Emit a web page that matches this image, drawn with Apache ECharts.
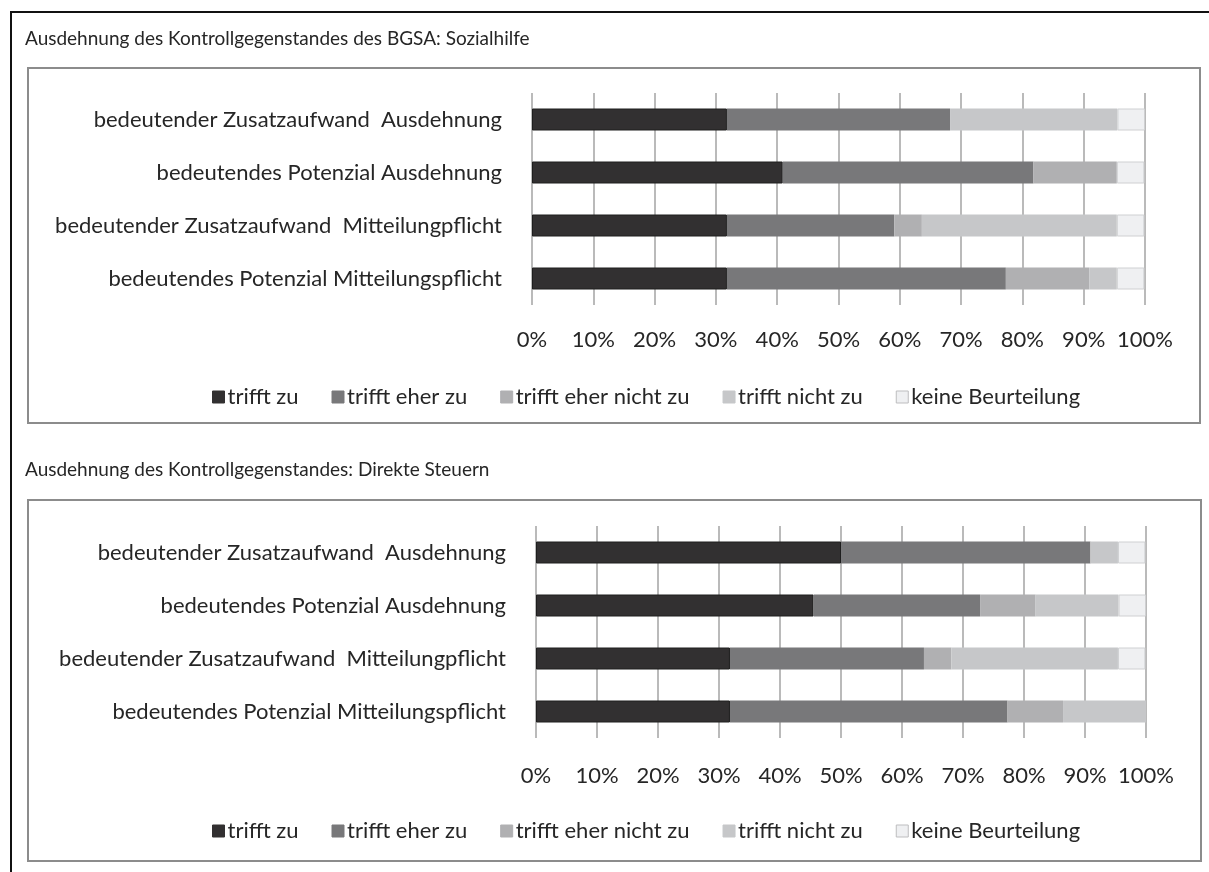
<!DOCTYPE html>
<html>
<head>
<meta charset="utf-8">
<script src="https://cdn.jsdelivr.net/npm/echarts@6/dist/echarts.min.js"></script>
<style>
  html, body { margin: 0; padding: 0; background: #fff; }
  #chart { width: 1209px; height: 872px; }
</style>
</head>
<body>
<div id="chart"></div>
<script>
// Survey answers, share of respondents in percent (rows top to bottom)
const categories = [
  'bedeutender Zusatzaufwand  Ausdehnung',
  'bedeutendes Potenzial Ausdehnung',
  'bedeutender Zusatzaufwand  Mitteilungpflicht',
  'bedeutendes Potenzial Mitteilungspflicht'
];
const answerNames = ['trifft zu', 'trifft eher zu', 'trifft eher nicht zu', 'trifft nicht zu', 'keine Beurteilung'];
const xTicks = ['0%', '10%', '20%', '30%', '40%', '50%', '60%', '70%', '80%', '90%', '100%'];

const titleSozialhilfe = 'Ausdehnung des Kontrollgegenstandes des BGSA: Sozialhilfe';
const titleSteuern = 'Ausdehnung des Kontrollgegenstandes: Direkte Steuern';

// Sozialhilfe
const sozTrifftZu       = [31.8, 40.9, 31.8, 31.8];
const sozEherZu         = [36.4, 40.9, 27.3, 45.5];
const sozEherNichtZu    = [0,    13.6, 4.5,  13.6];
const sozNichtZu        = [27.3, 0,    31.8, 4.5];
const sozKeine          = [4.5,  4.5,  4.5,  4.5];

// Direkte Steuern
const stTrifftZu        = [50.0, 45.5, 31.8, 31.8];
const stEherZu          = [40.9, 27.3, 31.8, 45.5];
const stEherNichtZu     = [0,    9.1,  4.5,  9.1];
const stNichtZu         = [4.5,  13.6, 27.3, 13.6];
const stKeine           = [4.5,  4.5,  4.5,  0];

const FONT = 'Lato';
const TEXT = '#262626';
const fills   = ['#323031', '#78787a', '#b0b0b2', '#c6c7c9', '#eff0f2'];
const borders = ['#1e1e1e', '#78787a', '#b0b0b2', '#c6c7c9', '#cfd0d2'];

function makeSeries(sets, axisIndex) {
  return sets.map((values, i) => ({
    name: answerNames[i],
    type: 'bar',
    stack: 'g' + axisIndex,
    xAxisIndex: axisIndex,
    yAxisIndex: axisIndex,
    barWidth: 22,
    silent: true,
    data: values.map(v => (v === 0 ? '-' : v)),
    itemStyle: {
      color: fills[i],
      borderColor: borders[i],
      borderWidth: (i === 0 || i === 4) ? 1 : 0
    }
  }));
}

function makeX(gridIndex, margin) {
  return {
    type: 'value', gridIndex, min: 0, max: 100, interval: 10,
    axisLine: { show: false },
    axisTick: { show: false },
    splitLine: { show: true, lineStyle: { color: '#a3a3a3', width: 1.5 } },
    axisLabel: {
      margin, color: TEXT, fontFamily: FONT, fontSize: 22,
      formatter: v => xTicks[Math.round(v / 10)]
    }
  };
}

function makeY(gridIndex) {
  return {
    type: 'category', gridIndex, inverse: true, data: categories,
    axisLine: { show: false },
    axisTick: { show: false },
    axisLabel: { margin: 30, color: TEXT, fontFamily: FONT, fontSize: 22 }
  };
}

function makeLegend(top) {
  return {
    left: 207, top, itemWidth: 12, itemHeight: 12, itemGap: 33,
    icon: 'rect', selectedMode: false,
    data: answerNames.map((n, i) => ({
      name: n,
      itemStyle: { color: fills[i], borderColor: i === 4 ? '#bdbdbf' : fills[i], borderWidth: 1 }
    })),
    textStyle: { color: TEXT, fontFamily: FONT, fontSize: 22, padding: [0, 0, 0, -2] }
  };
}

const chart = echarts.init(document.getElementById('chart'), null, { renderer: 'canvas' });
chart.setOption({
  backgroundColor: '#fff',
  animation: false,
  title: [
    { text: titleSozialhilfe, left: 20, top: 24, textStyle: { fontFamily: FONT, fontSize: 19, fontWeight: 'normal', color: TEXT } },
    { text: titleSteuern, left: 20, top: 455, textStyle: { fontFamily: FONT, fontSize: 19, fontWeight: 'normal', color: TEXT } }
  ],
  graphic: [
    { type: 'rect', shape: { x: 11, y: 12, width: 1240, height: 900 }, style: { fill: 'none', stroke: '#111', lineWidth: 2 }, silent: true },
    { type: 'rect', shape: { x: 28, y: 68, width: 1172, height: 355 }, style: { fill: 'none', stroke: '#8c8c8c', lineWidth: 2 }, silent: true },
    { type: 'rect', shape: { x: 28, y: 500, width: 1173, height: 361 }, style: { fill: 'none', stroke: '#8c8c8c', lineWidth: 2 }, silent: true }
  ],
  legend: [makeLegend(381), makeLegend(815)],
  grid: [
    { left: 532, top: 93, width: 613, height: 212 },
    { left: 536, top: 526, width: 610, height: 212 }
  ],
  xAxis: [makeX(0, 24), makeX(1, 27)],
  yAxis: [makeY(0), makeY(1)],
  series: [
    ...makeSeries([sozTrifftZu, sozEherZu, sozEherNichtZu, sozNichtZu, sozKeine], 0),
    ...makeSeries([stTrifftZu, stEherZu, stEherNichtZu, stNichtZu, stKeine], 1)
  ]
});
</script>
</body>
</html>
